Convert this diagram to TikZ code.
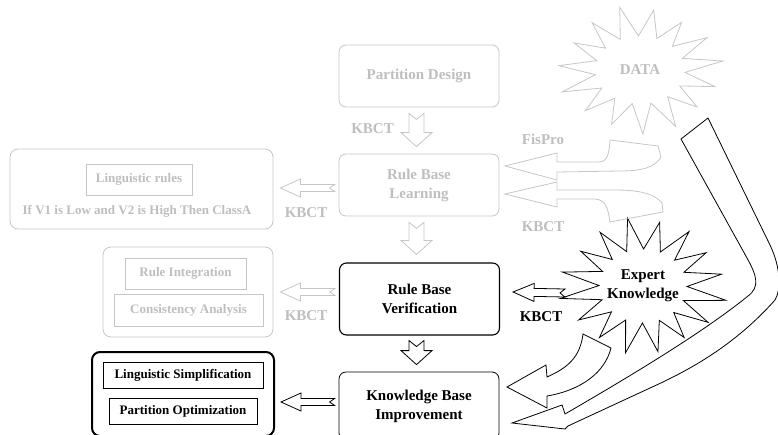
\documentclass[tikz,border=0pt]{standalone}
\usepackage{fontspec}
\setmainfont{Liberation Serif}
\usetikzlibrary{calc}

\definecolor{fadeline}{RGB}{198,198,198}
\definecolor{fadetext}{RGB}{190,190,190}

% Straight block arrow from a tail point to a tip point.
% #1 style, #2 tail, #3 tip, #4 head length, #5 head half-width,
% #6 shaft half-width, #7 depth of the notch cut into the tail
\newcommand\blockarrow[7][]{%
  \draw[#1] let \p1=#2, \p2=#3,
    \n1={atan2(\y2-\y1,\x2-\x1)}, \n2={veclen(\x2-\x1,\y2-\y1)} in
    [shift={(\p1)}, rotate=\n1]
    (0pt,#6pt) -- ({(\n2-#4)*1pt},#6pt) -- ({(\n2-#4)*1pt},#5pt)
    -- ({\n2*1pt},0pt) -- ({(\n2-#4)*1pt},-#5pt) -- ({(\n2-#4)*1pt},-#6pt)
    -- (0pt,-#6pt) -- (#7pt,0pt) -- cycle;}

% Spiky burst outline around a node.
% #1 style, #2 centre node, #3 number of spikes, #4/#5 outer radii,
% #6/#7 inner radii, #8 angle offset
\newcommand\burstouter[6]{($(#1.center)+({cos(#2*360/#3+#6)*#4*(1+0.06*sin(#2*97))*1pt},{sin(#2*360/#3+#6)*#5*(1+0.06*sin(#2*97))*1pt})$)}
\newcommand\burstinner[6]{($(#1.center)+({cos((#2-0.5)*360/#3+#6)*#4*1pt},{sin((#2-0.5)*360/#3+#6)*#5*1pt})$)}
\newcommand\burst[8][]{%
  \pgfmathtruncatemacro\burstlast{#3-1}%
  \draw[#1] \burstouter{#2}{0}{#3}{#4}{#5}{#8}
    \foreach \i in {1,...,\burstlast} {
      -- \burstinner{#2}{\i}{#3}{#6}{#7}{#8} -- \burstouter{#2}{\i}{#3}{#4}{#5}{#8} }
    -- \burstinner{#2}{#3}{#3}{#6}{#7}{#8} -- cycle;}

\begin{document}
\begin{tikzpicture}[x=1pt,y=-1pt,
  font=\bfseries\fontsize{15}{19}\selectfont,
  line width=0.8pt, line join=miter,
  stagebox/.style={draw, rounded corners=7pt, align=center, inner sep=0pt,
    minimum width=160pt},
  groupbox/.style={draw, rounded corners=8pt, inner sep=0pt},
  itembox/.style={draw, inner sep=0pt, font=\bfseries\fontsize{13}{16}\selectfont},
  faded/.style={draw=fadeline, text=fadetext},
  tag/.style={inner sep=0pt, align=center},
]
\useasboundingbox (0,0) rectangle (778,434);

% ---- stages of the design flow ----
\node[stagebox, faded, minimum height=62pt] (pd)  at (419,76)  {Partition Design};
\node[stagebox, faded, minimum height=62pt] (rbl) at (419,185) {Rule Base\\Learning};
\node[stagebox, line width=1.1pt, minimum height=72pt] (rbv) at (419.5,299) {Rule Base\\Verification};
\node[stagebox, minimum height=68pt] (kbi) at (419,406) {Knowledge Base\\Improvement};

% ---- what each stage produces ----
\node[groupbox, faded, minimum width=263pt, minimum height=80pt] (rules) at (141.5,189) {};
\node[itembox, faded, minimum width=106pt, minimum height=31pt] (lingrules) at (139,179.5) {Linguistic rules};
\node[tag, text=fadetext, font=\bfseries\fontsize{13}{16}\selectfont] (ifthen) at (137,211)
  {If V1 is Low and V2 is High Then ClassA};

\node[groupbox, faded, minimum width=170pt, minimum height=90pt] (checks) at (188,292) {};
\node[itembox, faded, minimum width=121pt, minimum height=31pt] (integ) at (185.5,273.5) {Rule Integration};
\node[itembox, faded, minimum width=149pt, minimum height=32pt] (consist) at (188.5,310) {Consistency Analysis};

\node[groupbox, line width=2pt, minimum width=182pt, minimum height=84pt] (improve) at (183,394) {};
\node[itembox, minimum width=160pt, minimum height=26pt] (simpl) at (183,375) {Linguistic Simplification};
\node[itembox, minimum width=148pt, minimum height=26pt] (optim) at (183,411) {Partition Optimization};

% ---- knowledge sources ----
\node[tag, text=fadetext] (data) at (640,70) {DATA};
\burst[fadeline]{data}{15}{79}{61}{45}{34}{80}
\node[tag] (expert) at (643,286) {Expert\\Knowledge};
\burst{expert}{16}{80}{65}{44}{37}{78}

% ---- tool labels ----
\node[tag, text=fadetext] (k1) at (372.5,129) {KBCT};
\node[tag, text=fadetext] (k2) at (306,213) {KBCT};
\node[tag, text=fadetext] (k3) at (306,316) {KBCT};
\node[tag, text=fadetext] (fis) at (543,139) {FisPro};
\node[tag, text=fadetext] (k4) at (543,227) {KBCT};
\node[tag] (k5) at (541,317) {KBCT};

% ---- block arrows between stages ----
\blockarrow[fadeline]{($(pd.south)+(-2.5,6)$)}{($(rbl.north)+(-2.5,-7)$)}{14}{15.5}{7.5}{6}
\blockarrow[fadeline]{($(rbl.south)+(-2.5,6)$)}{($(rbv.north)+(-3,-8)$)}{14}{15.5}{7.5}{6}
\blockarrow{($(rbv.south)+(-3,5)$)}{($(kbi.north)+(-2.5,-7)$)}{14}{15.5}{7.5}{6}

\blockarrow[fadeline]{($(rbl.west)+(-4,3)$)}{($(rules.east)+(7,-1)$)}{20}{9}{3.5}{5}
\blockarrow[fadeline]{($(rbv.west)+(-4,-7)$)}{($(checks.east)+(7,0)$)}{20}{9}{3.5}{5}
\blockarrow{($(kbi.west)+(-4,-4)$)}{($(improve.east)+(6,8)$)}{20}{9}{3.5}{5}
\blockarrow{($(expert.center)+(-78,7)$)}{($(rbv.east)+(13,-7)$)}{21}{9}{4}{5}

% ---- curved arrows from the data source ----
\draw[fadeline] (505,166) -- (557,153) -- (557,162) -- (598,162)
  .. controls (607,162) and (609,156) .. (610,140) -- (658,146) -- (661,157)
  .. controls (655,168) and (640,171) .. (620,171) -- (557,172) -- (557,180) -- cycle;
\draw[fadeline] (505,194) -- (557,182) -- (557,190) -- (615,190)
  .. controls (640,190) and (655,194) .. (662,203) -- (663,212) -- (610,222)
  .. controls (608,212) and (608,200) .. (595,199) -- (557,199) -- (557,207) -- cycle;

% ---- curved arrows into the improvement stage ----
\draw (681,139) -- (708,118) -- (770,245)
  .. controls (781,268) and (781,290) .. (775,300)
  .. controls (735,345) and (690,370) .. (650,388) -- (568,426) -- (565,429)
  -- (512,423) -- (562,405) -- (565,414)
  .. controls (620,382) and (700,335) .. (748,296)
  .. controls (760,287) and (757,276) .. (747,258) -- cycle;
\draw (507,387) -- (546,365) -- (547,377)
  .. controls (567,368) and (580,358) .. (583,334) -- (611,348)
  .. controls (605,372) and (582,390) .. (547,396) -- (547,408) -- cycle;
\end{tikzpicture}
\end{document}
